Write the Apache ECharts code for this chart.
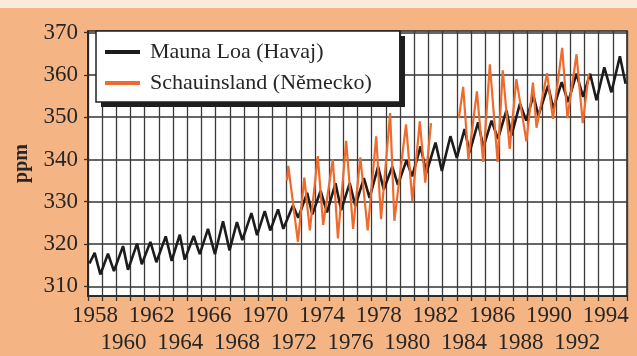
<!DOCTYPE html>
<html><head><meta charset="utf-8">
<script src="https://cdn.jsdelivr.net/npm/echarts@6/dist/echarts.min.js"></script>
<style>html,body{margin:0;padding:0;background:#F4B483;} #c{width:637px;height:356px;}</style>
</head><body><div id="c"></div>
<script>
const yearLabels = ['1958','1959','1960','1961','1962','1963','1964','1965','1966','1967','1968','1969','1970','1971','1972','1973','1974','1975','1976','1977','1978','1979','1980','1981','1982','1983','1984','1985','1986','1987','1988','1989','1990','1991','1992','1993','1994','1995'];
const yTicks = [310, 320, 330, 340, 350, 360, 370];

const maunaLoaTime = [1958.10,1958.47,1958.87,1959.41,1959.83,1960.47,1960.82,1961.46,1961.79,1962.40,1962.82,1963.48,1963.90,1964.47,1964.82,1965.45,1965.88,1966.46,1966.95,1967.52,1967.98,1968.50,1968.88,1969.52,1969.92,1970.46,1970.85,1971.40,1971.77,1972.45,1972.82,1973.45,1973.82,1974.40,1974.85,1975.45,1975.85,1976.45,1976.85,1977.45,1977.85,1978.45,1978.85,1979.45,1979.85,1980.45,1980.85,1981.45,1981.85,1982.50,1982.95,1983.55,1984.00,1984.55,1984.90,1985.50,1985.88,1986.45,1986.90,1987.50,1987.86,1988.45,1988.90,1989.40,1989.75,1990.44,1990.80,1991.40,1991.85,1992.44,1992.90,1993.40,1993.85,1994.40,1994.90,1995.50,1995.90];
const maunaLoaPpm = [315.4,317.9,312.8,317.7,313.6,319.5,313.9,320.1,315.2,320.5,315.7,321.8,316.0,322.2,316.3,321.9,317.6,323.6,317.6,325.4,318.5,325.2,320.9,327.3,322.1,327.8,323.2,328.2,323.6,329.1,326.2,332.1,327.0,332.6,327.5,334.4,328.0,334.4,329.0,335.6,330.9,338.3,332.9,338.3,334.0,339.8,336.0,343.1,336.8,344.0,337.3,345.5,340.4,347.2,341.7,348.8,342.9,349.2,344.9,351.6,345.7,353.2,349.2,355.2,350.4,357.5,352.0,358.3,353.6,360.3,354.8,360.3,354.0,361.8,355.9,364.4,357.9];

const schauTime1 = [1972.03,1972.12,1972.80,1973.25,1973.64,1974.20,1974.58,1975.26,1975.62,1976.20,1976.69,1977.20,1977.72,1978.32,1978.66,1979.30,1979.60,1980.42,1980.87,1981.39,1981.78,1982.18];
const schauPpm1 = [335.0,338.5,320.5,335.7,323.2,340.8,324.5,340.0,321.3,344.4,323.6,340.5,323.2,345.5,325.9,351.0,325.5,348.3,330.2,349.0,334.5,348.6];
const schauTime2 = [1984.15,1984.45,1984.82,1985.42,1985.86,1986.33,1986.88,1987.24,1987.73,1988.20,1988.91,1989.37,1989.62,1990.36,1990.78,1991.43,1991.80,1992.44,1992.88,1993.30];
const schauPpm2 = [349.8,357.2,340.0,356.1,339.4,362.5,339.4,361.1,342.5,359.0,344.3,358.2,347.5,360.4,349.6,366.4,349.8,364.9,348.6,360.2];

const serif = "'Liberation Serif','DejaVu Serif',serif";
const ink = '#262626';

const pairs = (ts, vs) => ts.map((t, i) => [t, vs[i]]);
const maunaData = pairs(maunaLoaTime, maunaLoaPpm);
const schauData = pairs(schauTime1, schauPpm1).concat([[1983, '-']], pairs(schauTime2, schauPpm2));

const labelAxis = (rowTest, margin) => ({
  type: 'category', data: yearLabels, position: 'bottom', boundaryGap: true,
  axisLine: {show: false, onZero: false}, axisTick: {show: false}, splitLine: {show: false},
  axisLabel: {
    interval: rowTest, margin: margin, fontFamily: serif, fontSize: 23, color: ink, lineHeight: 27
  }
});

const chart = echarts.init(document.getElementById('c'), null, {renderer: 'canvas'});
chart.setOption({
  animation: false,
  backgroundColor: '#F4B483',
  graphic: [
    {type: 'rect', left: 0, top: 0, shape: {width: 637, height: 8}, style: {fill: '#FBE9DA'}, silent: true, z: -10},
    {type: 'rect', left: 101, top: 36, shape: {width: 304, height: 71}, style: {fill: '#1e1e1e'}, silent: true, z: 9}
  ],
  grid: {left: 88, right: 10, top: 31, bottom: 60, show: true, backgroundColor: '#ffffff', borderColor: '#222', borderWidth: 1.5, containLabel: false},
  legend: {
    left: 96, top: 31, orient: 'vertical', z: 10,
    backgroundColor: '#ffffff', borderColor: '#222', borderWidth: 1.5,
    padding: [8, 28, 6, 9], itemGap: 5, itemWidth: 35, itemHeight: 4,
    icon: 'rect',
    textStyle: {fontFamily: serif, fontSize: 22, color: ink, lineHeight: 26, padding: [0, 0, 0, 5]},
    data: ['Mauna Loa (Havaj)', 'Schauinsland (Německo)']
  },
  xAxis: [
    {
      type: 'value', min: 1958, max: 1996, interval: 1,
      axisLine: {show: true, onZero: false, lineStyle: {color: '#222', width: 1.5}},
      axisTick: {show: true, inside: false, length: 5, lineStyle: {color: '#333', width: 1.3}},
      axisLabel: {show: false},
      splitLine: {show: true, lineStyle: {color: '#3a3a3a', width: 1.3}}
    },
    labelAxis((i) => i % 4 === 0, 6),
    labelAxis((i) => i % 4 === 2, 33)
  ],
  yAxis: {
    type: 'value', min: 307.7, max: 370.4,
    name: 'ppm', nameLocation: 'middle', nameGap: 56,
    nameTextStyle: {fontFamily: serif, fontSize: 20, fontWeight: 'bold', color: ink},
    axisLine: {show: true, lineStyle: {color: '#222', width: 1.5}},
    axisTick: {show: true, inside: false, length: 4, customValues: yTicks, lineStyle: {color: '#333', width: 1.3}},
    axisLabel: {margin: 10, fontFamily: serif, fontSize: 23, color: ink, customValues: yTicks},
    splitLine: {show: true, lineStyle: {color: '#333', width: 1.5}}
  },
  series: [
    {
      name: 'Mauna Loa (Havaj)', type: 'line', xAxisIndex: 0, data: maunaData,
      showSymbol: false, symbol: 'none', color: '#1c1c1c',
      itemStyle: {color: '#1c1c1c'},
      lineStyle: {color: '#1c1c1c', width: 2.6}, z: 3
    },
    {
      name: 'Schauinsland (Německo)', type: 'line', xAxisIndex: 0, data: schauData,
      showSymbol: false, symbol: 'none', connectNulls: false, color: '#EE6B2D',
      itemStyle: {color: '#EE6B2D'},
      lineStyle: {color: '#EE6B2D', width: 2.2}, z: 4
    }
  ]
});
</script></body></html>
